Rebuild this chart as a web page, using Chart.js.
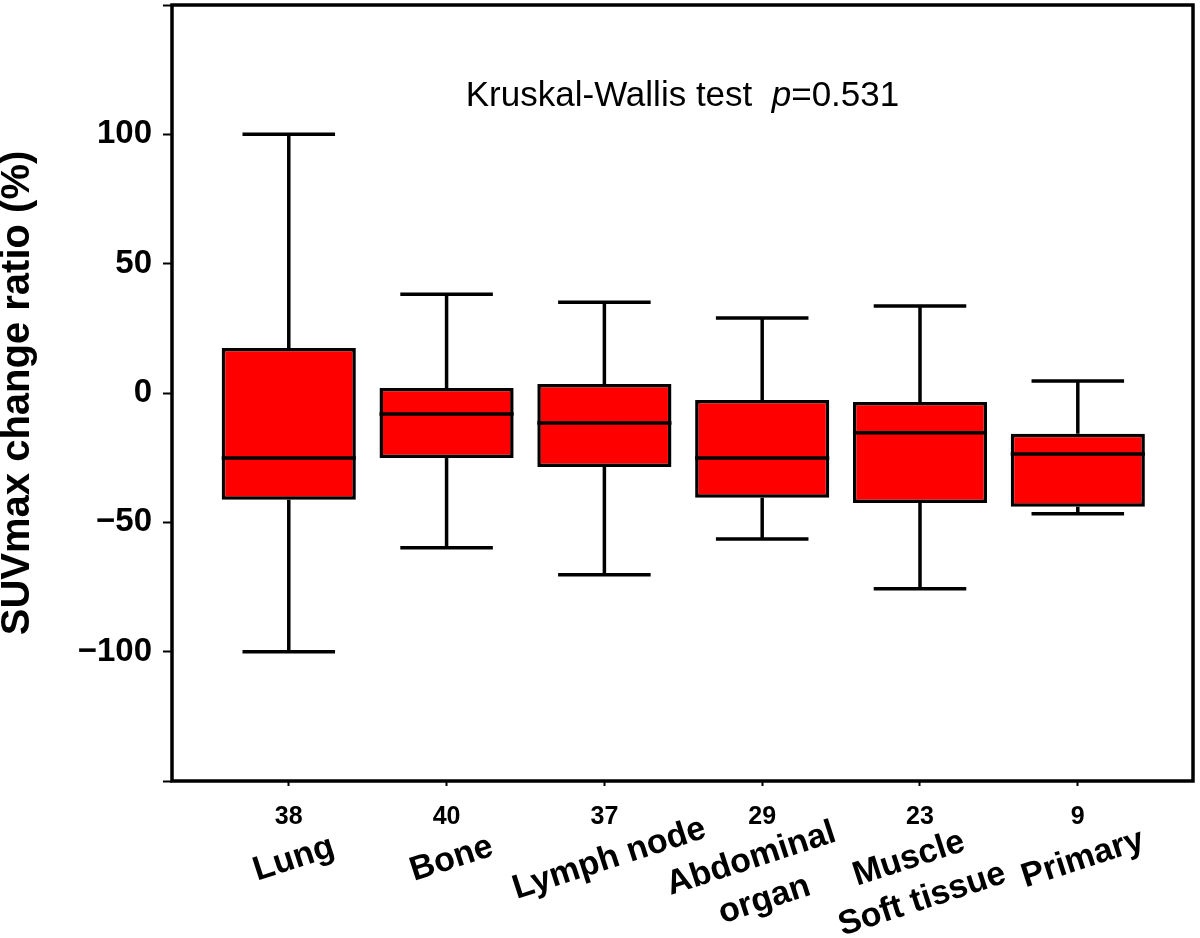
<!DOCTYPE html>
<html>
<head>
<meta charset="utf-8">
<script src="https://cdn.jsdelivr.net/npm/chart.js@4.4.1/dist/chart.umd.min.js"></script>
<style>
  html, body { margin: 0; padding: 0; background: #ffffff; }
  #wrap { width: 1200px; height: 938px; }
</style>
</head>
<body>
<div id="wrap"><canvas id="boxChart"></canvas></div>
<script>
// Sites and number of lesions
const sites = [['Lung'], ['Bone'], ['Lymph node'], ['Abdominal', 'organ'], ['Muscle', 'Soft tissue'], ['Primary']];
const counts = ['38', '40', '37', '29', '23', '9'];

// Box plot statistics (SUVmax change ratio, %)
const whiskerMax = [100, 38.2, 35.1, 29.0, 33.6, 4.6];
const q3 = [17.4, 1.9, 3.5, -2.7, -3.5, -15.8];
const medians = [-25.1, -8.1, -11.6, -25.1, -15.4, -23.6];
const q1 = [-41.3, -25.1, -28.6, -40.5, -42.5, -44.0];
const whiskerMin = [-100, -59.8, -70.3, -56.4, -75.7, -46.7];

const yTicks = [-150, -100, -50, 0, 50, 100, 150];
const statText = ['Kruskal-Wallis test  ', 'p', '=0.531'];

const FONT = "'Liberation Sans', Arial, Helvetica, sans-serif";
const NARROW = "'Liberation Sans Narrow', 'Arial Narrow', 'Liberation Sans', sans-serif";

// whiskers, caps and medians drawn from the bar elements + y scale
const boxExtras = {
    id: 'boxExtras',
    afterDatasetsDraw(chart) {
        const { ctx, scales: { y } } = chart;
        const meta = chart.getDatasetMeta(0);
        ctx.save();
        ctx.strokeStyle = '#000';
        ctx.lineCap = 'butt';
        meta.data.forEach((bar, i) => {
            const x = bar.x;
            const half = bar.width / 2;
            const cap = bar.width * 0.345;
            const yMax = y.getPixelForValue(whiskerMax[i]);
            const yQ3 = y.getPixelForValue(q3[i]);
            const yQ1 = y.getPixelForValue(q1[i]);
            const yMin = y.getPixelForValue(whiskerMin[i]);
            const yMed = y.getPixelForValue(medians[i]);
            ctx.lineWidth = 3.5;
            ctx.beginPath();
            ctx.moveTo(x, yQ3); ctx.lineTo(x, yMax);
            ctx.moveTo(x - cap, yMax); ctx.lineTo(x + cap, yMax);
            ctx.moveTo(x, yQ1); ctx.lineTo(x, yMin);
            ctx.moveTo(x - cap, yMin); ctx.lineTo(x + cap, yMin);
            ctx.stroke();
            ctx.beginPath();
            ctx.moveTo(x - half, yMed); ctx.lineTo(x + half, yMed);
            ctx.stroke();
        });
        ctx.restore();
    },
    afterDraw(chart) {
        const { ctx, chartArea: a, scales: { x } } = chart;
        ctx.save();
        // frame
        ctx.strokeStyle = '#000';
        ctx.lineWidth = 3.5;
        ctx.strokeRect(a.left, a.top, a.right - a.left, a.bottom - a.top);

        // statistics text
        ctx.fillStyle = '#000';
        ctx.textBaseline = 'alphabetic';
        ctx.textAlign = 'left';
        const fonts = [`35px ${FONT}`, `italic 35px ${FONT}`, `35px ${FONT}`];
        let total = 0;
        const widths = statText.map((t, k) => { ctx.font = fonts[k]; const w = ctx.measureText(t).width; total += w; return w; });
        let sx = (a.left + a.right) / 2 - total / 2;
        statText.forEach((t, k) => { ctx.font = fonts[k]; ctx.fillText(t, sx, 106); sx += widths[k]; });

        // rotated site names (first line on a common level, next lines below)
        ctx.font = `bold 34px ${FONT}`;
        ctx.textAlign = 'center';
        ctx.textBaseline = 'middle';
        sites.forEach((lines, i) => {
            const px = x.getPixelForValue(i + 1);
            ctx.save();
            ctx.translate(px + 5 - (lines.length - 1) * 16, 859);
            ctx.rotate(-18 * Math.PI / 180);
            lines.forEach((t, j) => {
                ctx.fillText(t, 0, j * 43);
            });
            ctx.restore();
        });
        ctx.restore();
    }
};

new Chart(document.getElementById('boxChart'), {
    type: 'bar',
    data: {
        datasets: [{
            data: sites.map((s, i) => ({ x: i + 1, y: [q1[i], q3[i]] })),
            backgroundColor: '#ff0000',
            borderColor: '#000000',
            borderWidth: 3.5,
            borderSkipped: false,
            barPercentage: 0.85,
            categoryPercentage: 1.0
        }]
    },
    options: {
        responsive: true,
        maintainAspectRatio: false,
        animation: false,
        devicePixelRatio: 1,
        layout: { padding: { top: 5, right: 7, left: 0, bottom: 0 } },
        plugins: {
            legend: { display: false },
            tooltip: { enabled: false }
        },
        scales: {
            x: {
                type: 'linear',
                offset: false,
                min: 0.26,
                max: 6.73,
                afterBuildTicks: (scale) => {
                    scale.ticks = counts.map((c, i) => ({ value: i + 1 }));
                },
                afterFit: (scale) => {
                    scale.height = 157;
                    scale.paddingLeft = 0;
                    scale.paddingRight = 0;
                },
                grid: {
                    offset: false,
                    drawOnChartArea: false,
                    drawTicks: true,
                    tickLength: 5,
                    tickWidth: 2,
                    tickColor: '#000'
                },
                border: { display: false },
                ticks: {
                    autoSkip: false,
                    maxRotation: 0,
                    padding: 16,
                    color: '#000',
                    font: { family: NARROW, size: 25, weight: 'bold' },
                    callback: (v) => counts[v - 1] ?? ''
                }
            },
            y: {
                min: -150,
                max: 150,
                afterBuildTicks: (scale) => {
                    scale.ticks = yTicks.map(v => ({ value: v }));
                },
                afterFit: (scale) => {
                    scale.width = 172;
                    scale.paddingTop = 0;
                    scale.paddingBottom = 0;
                },
                grid: {
                    drawOnChartArea: false,
                    drawTicks: true,
                    tickLength: 9,
                    tickWidth: 2,
                    tickColor: '#000'
                },
                border: { display: false },
                ticks: {
                    padding: 11,
                    color: '#000',
                    font: { family: FONT, size: 33, weight: 'bold' },
                    callback: (v) => (Math.abs(v) === 150 ? '' : (v < 0 ? '\u2212' + Math.abs(v) : String(v)))
                },
                title: {
                    display: true,
                    text: 'SUVmax change ratio (%)',
                    color: '#000',
                    padding: 0,
                    font: { family: FONT, size: 40, weight: 'bold', lineHeight: 0.9 }
                }
            }
        }
    },
    plugins: [boxExtras]
});
</script>
</body>
</html>
